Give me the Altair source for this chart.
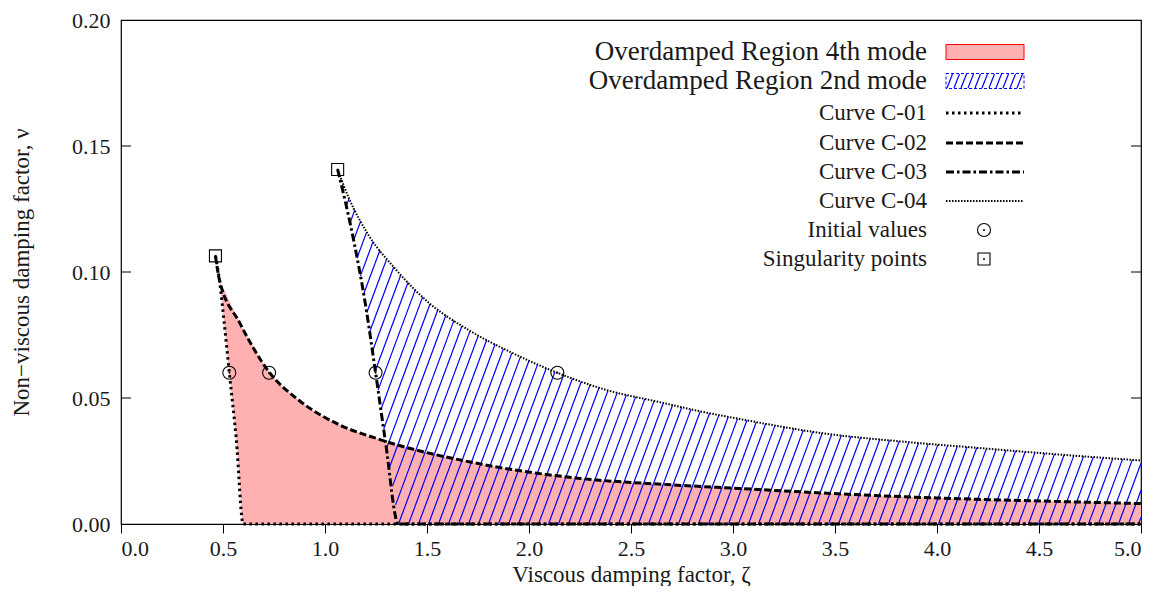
import altair as alt
import pandas as pd
import numpy as np

# ---------------- data ----------------
c01_z = [0.463, 0.482, 0.507, 0.531, 0.565, 0.599, 5.0]
c01_v = [0.1064, 0.0971, 0.0790, 0.0600, 0.0337, 0.0, 0.0]

c02_z = [0.463, 0.482, 0.580, 0.726, 0.872, 1.067, 1.262, 1.750, 2.237, 2.710,
         3.031, 3.441, 3.845, 4.201, 4.610, 5.0]
c02_v = [0.1064, 0.0971, 0.0801, 0.0603, 0.0491, 0.0395, 0.0337, 0.0240, 0.0182, 0.0155,
         0.0141, 0.0123, 0.0108, 0.0098, 0.0089, 0.0081]

c03_z = [1.062, 1.140, 1.199, 1.248, 1.296, 1.360, 5.0]
c03_v = [0.1407, 0.1128, 0.0868, 0.0600, 0.0329, 0.0, 0.0]

c04_z = [1.062, 1.116, 1.213, 1.345, 1.506, 1.701, 1.910, 2.139, 2.383, 2.627,
         2.870, 3.031, 3.441, 3.845, 4.201, 4.610, 5.0]
c04_v = [0.1407, 0.1295, 0.1147, 0.1012, 0.0880, 0.0771, 0.0682, 0.0600, 0.0531, 0.0486,
         0.0442, 0.0417, 0.0360, 0.0326, 0.0302, 0.0275, 0.0252]

init_z = [0.531, 0.726, 1.248, 2.139]
init_v = [0.060, 0.060, 0.060, 0.060]
sing_z = [0.463, 1.062]
sing_v = [0.1064, 0.1407]

x_ticks = [0.0, 0.5, 1.0, 1.5, 2.0, 2.5, 3.0, 3.5, 4.0, 4.5, 5.0]
y_ticks = [0.00, 0.05, 0.10, 0.15, 0.20]

leg_labels = ["Overdamped Region 4th mode", "Overdamped Region 2nd mode",
              "Curve C-01", "Curve C-02", "Curve C-03", "Curve C-04",
              "Initial values", "Singularity points"]

# ---------------- layout / style ----------------
W, H = 1020, 504
FONT = "Liberation Serif, DejaVu Serif, serif"
RED_FILL = "#ffb0b0"
BLUE = "#0000ff"

xs = alt.Scale(domain=[0, 5], nice=False, zero=False)
ys = alt.Scale(domain=[0, 0.2], nice=False, zero=False)
X = lambda f: alt.X(f, type="quantitative", scale=xs,
                    axis=alt.Axis(values=x_ticks, format=".1f", title="Viscous damping factor, ζ"))
Y = lambda f: alt.Y(f, type="quantitative", scale=ys,
                    axis=alt.Axis(values=y_ticks, format=".2f", title="Non−viscous damping factor, ν"))

# ---------------- red region (right of C-01, below C-02) ----------------
grid = np.unique(np.concatenate([c01_z[:-1], c02_z]))
upper = np.interp(grid, c02_z, c02_v)
lower = np.interp(grid, c01_z, c01_v)
red_df = pd.DataFrame({"z": grid, "up": upper, "lo": lower})
red = alt.Chart(red_df).mark_area(color=RED_FILL, opacity=1, interpolate="monotone").encode(
    x=X("z"), y=Y("up"), y2="lo")

# ---------------- blue hatched region (right of C-03, below C-04) ----------------
px_x = W / 5.0
px_y = H / 0.2
slope = 2.7 * px_x / px_y        # hatch slope in data units
step = 10.0 / px_x               # hatch spacing (10 px)
c03_vr = np.array(c03_v[:6])[::-1]
c03_zr = np.array(c03_z[:6])[::-1]
segs = []
for c in np.arange(0.38, 5.0, step):
    zz = np.linspace(max(c, 1.0), 5.0, 5000)
    vv = slope * (zz - c)
    inside = (vv >= 0) & (zz >= c04_z[0]) & (vv <= np.interp(zz, c04_z, c04_v)) & \
             (zz >= np.interp(vv, c03_vr, c03_zr))
    idx = np.nonzero(inside)[0]
    if len(idx) < 2:
        continue
    segs.append((zz[idx[0]], vv[idx[0]], zz[idx[-1]], vv[idx[-1]]))
hatch_df = pd.DataFrame(segs, columns=["z1", "v1", "z2", "v2"])
hatch = alt.Chart(hatch_df).mark_rule(color=BLUE, strokeWidth=1.2).encode(
    x=X("z1"), y=Y("v1"), x2="z2", y2="v2")

# ---------------- curves ----------------
def curve(z, v, dash, width):
    df = pd.DataFrame({"z": z, "v": v, "i": range(len(z))})
    return alt.Chart(df).mark_line(color="black", strokeDash=dash, strokeWidth=width,
                                   interpolate="monotone").encode(
        x=X("z"), y=Y("v"), order="i")

dash01, dash02, dash03, dash04 = [2.5, 3.5], [7, 3], [8, 3, 2.5, 3], [1.5, 1.5]
l1 = curve(c01_z, c01_v, dash01, 3)
l2 = curve(c02_z, c02_v, dash02, 3)
l3 = curve(c03_z, c03_v, dash03, 3)
l4 = curve(c04_z, c04_v, dash04, 2)

init_df = pd.DataFrame({"z": init_z, "v": init_v})
sing_df = pd.DataFrame({"z": sing_z, "v": sing_v})
pts_c = alt.Chart(init_df).mark_point(shape="circle", filled=False, color="black",
                                      strokeWidth=1.1, size=169, opacity=1).encode(x=X("z"), y=Y("v"))
pts_s = alt.Chart(sing_df).mark_point(shape="square", filled=False, color="black",
                                      strokeWidth=1.1, size=144, opacity=1).encode(x=X("z"), y=Y("v"))
dots = alt.Chart(pd.concat([init_df, sing_df])).mark_point(shape="circle", filled=True, color="black",
                                                            size=4, opacity=1).encode(x=X("z"), y=Y("v"))

# ---------------- inward y ticks on left and right ----------------
yt_df = pd.DataFrame({"v": y_ticks[1:-1]})
yt_left = alt.Chart(yt_df).mark_rule(color="black", strokeWidth=1).encode(
    y=Y("v"), x=alt.value(0), x2=alt.value(10))
yt_right = alt.Chart(yt_df).mark_rule(color="black", strokeWidth=1).encode(
    y=Y("v"), x=alt.value(W - 10), x2=alt.value(W))

# ---------------- legend ----------------
row_y = [32, 61, 93, 123, 152, 181, 210, 239]
lab_x, sw_x1, sw_x2, sym_x = 806, 825, 903, 863
legend = []
for k, lab in enumerate(leg_labels):
    size = 27 if k < 2 else 23
    legend.append(alt.Chart(pd.DataFrame({"t": [lab]})).mark_text(
        font=FONT, fontSize=size, align="right", baseline="middle", color="#1a1a1a").encode(
        x=alt.value(lab_x), y=alt.value(row_y[k]), text="t:N"))

one = pd.DataFrame({"a": [0]})
legend.append(alt.Chart(one).mark_rect(fill=RED_FILL, stroke="#ff0000", strokeWidth=1).encode(
    x=alt.value(sw_x1), x2=alt.value(sw_x2), y=alt.value(row_y[0] - 7.5), y2=alt.value(row_y[0] + 7.5)))
legend.append(alt.Chart(one).mark_rect(fill="white", stroke=BLUE, strokeWidth=1, strokeDash=[3, 2]).encode(
    x=alt.value(sw_x1), x2=alt.value(sw_x2), y=alt.value(row_y[1] - 7.5), y2=alt.value(row_y[1] + 7.5)))
for xh in np.arange(sw_x1 + 1, sw_x2 - 6, 7):
    legend.append(alt.Chart(one).mark_rule(color=BLUE, strokeWidth=1.2).encode(
        x=alt.value(float(xh)), x2=alt.value(float(xh) + 5.5),
        y=alt.value(row_y[1] + 7), y2=alt.value(row_y[1] - 7)))
for k, (d, w) in enumerate([(dash01, 3), (dash02, 3), (dash03, 3), (dash04, 2)]):
    legend.append(alt.Chart(one).mark_rule(color="black", strokeDash=d, strokeWidth=w).encode(
        x=alt.value(sw_x1), x2=alt.value(sw_x2), y=alt.value(row_y[2 + k])))
legend.append(alt.Chart(one).mark_point(shape="circle", filled=False, color="black", size=169,
                                        strokeWidth=1.1, opacity=1).encode(
    x=alt.value(sym_x), y=alt.value(row_y[6])))
legend.append(alt.Chart(one).mark_point(shape="square", filled=False, color="black", size=144,
                                        strokeWidth=1.1, opacity=1).encode(
    x=alt.value(sym_x), y=alt.value(row_y[7])))
for r in (row_y[6], row_y[7]):
    legend.append(alt.Chart(one).mark_point(shape="circle", filled=True, color="black", size=4,
                                            opacity=1).encode(x=alt.value(sym_x), y=alt.value(r)))

chart = alt.layer(red, hatch, l1, l2, l3, l4, pts_c, pts_s, dots, yt_left, yt_right, *legend).properties(
    width=W, height=H,
    background="white",
    autosize=alt.AutoSizeParams(type="none"),
    padding={"left": 113, "top": 12, "right": 17, "bottom": 62},
).configure_view(stroke="black", strokeWidth=1.2).configure_axis(
    grid=False, domain=False, labelFont=FONT, titleFont=FONT, labelFontSize=22, titleFontSize=23,
    titleFontWeight="normal", labelColor="#1a1a1a", titleColor="#1a1a1a", tickColor="black",
).configure_axisX(
    tickSize=9, labelPadding=5, titlePadding=4,
).configure_axisY(
    ticks=False, labelPadding=11, titlePadding=38,
)

chart.save("out.html", embed_options={"renderer": "svg", "actions": False})
